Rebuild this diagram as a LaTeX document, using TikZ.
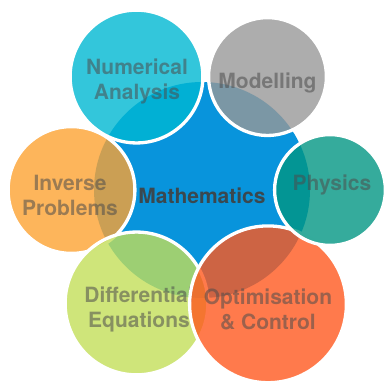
\documentclass[tikz,border=0pt]{standalone}
\usepackage{fontspec}
\setmainfont{TeX Gyre Heros}
\usetikzlibrary{calc}

\definecolor{mathblue}{RGB}{8,148,220}
\definecolor{modgray}{RGB}{152,152,152}
\definecolor{numcyan}{RGB}{0,184,210}
\definecolor{invorange}{RGB}{252,162,50}
\definecolor{difgreen}{RGB}{195,222,89}
\definecolor{optred}{RGB}{255,89,31}
\definecolor{phyteal}{RGB}{2,150,131}

\begin{document}
\begin{tikzpicture}[
x=1pt,
y=1pt,
bubble/.style={
  circle,
  draw=white,
  line width=3.3pt,
  fill opacity=0.8,
  draw opacity=1,
  inner sep=0pt
  },
caption/.style={
  font=\bfseries\fontsize{21}{25}\selectfont,
  text=black!70,
  text opacity=0.55,
  align=center,
  inner sep=0pt
  }
]
\useasboundingbox (0,0) rectangle (389,381);

\node[circle, fill=mathblue, minimum size=216pt, inner sep=0pt] (math) at (202,191) {};
\node[caption, text=black!75, text opacity=0.9] (math-t) at ([yshift=-5.5pt]math.center) {Mathematics};

% one bubble per field, counter-clockwise
\foreach \nm/\ang/\dist/\sz/\col/\txt/\dx/\dy in {
  mod/60/131/117.8/modgray/{Modelling}/0/-6.2,
  num/120/131/132.8/numcyan/{Numerical\\Analysis}/0.5/-4.7,
  inv/180/130.5/126.8/invorange/{Inverse\\Problems}/-1.5/-5.5,
  dif/240/131/142.8/difgreen/{Differential\\Equations}/2.5/-6,
  opt/300/132/156.8/optred/{Optimisation\\\& Control}/0/-5,
  phy/360/128/110.8/phyteal/{Physics}/2/5.3}
{
  \node[bubble, fill=\col, minimum size=\sz pt] (\nm) at ($(math)+(\ang:\dist)$) {};
  \node[caption] (\nm-t) at ([xshift=\dx pt, yshift=\dy pt]\nm.center) {\txt};
}
\end{tikzpicture}
\end{document}
